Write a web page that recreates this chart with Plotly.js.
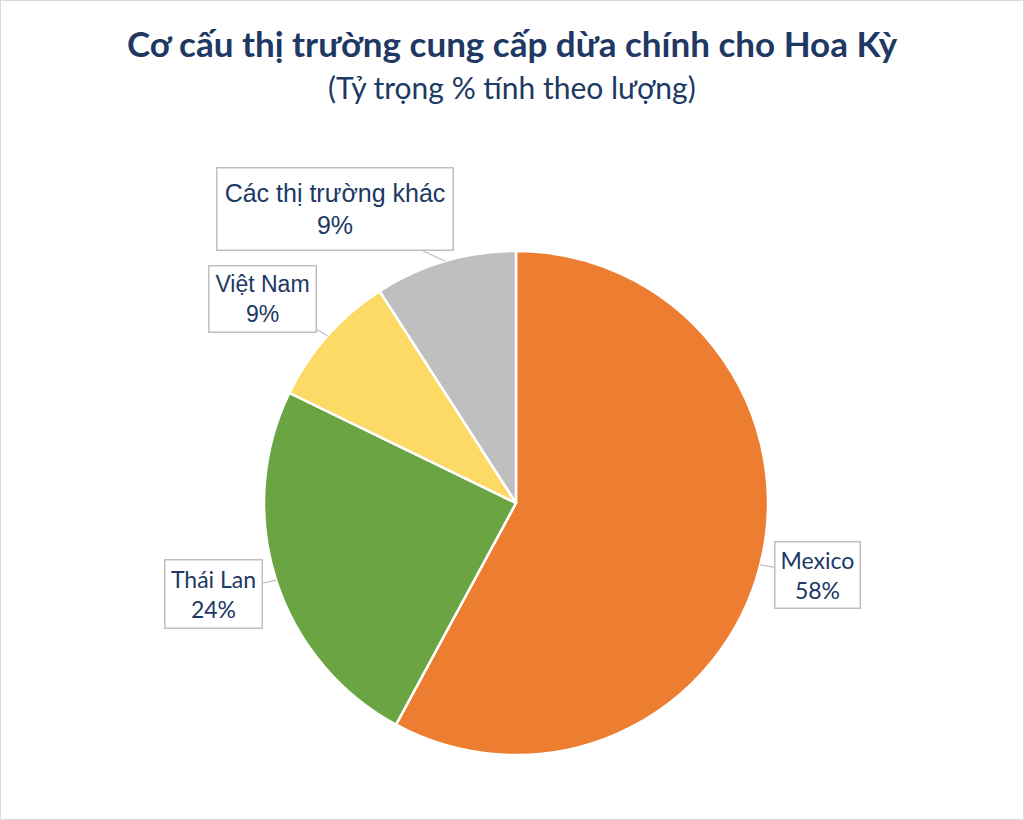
<!DOCTYPE html>
<html><head><meta charset="utf-8">
<script src="https://cdn.plot.ly/plotly-3.0.1.min.js"></script>
<style>html,body{margin:0;padding:0;background:#fff}</style>
</head><body>
<div id="chart" style="width:1024px;height:820px"></div>
<script>
const categories = ["Mexico", "Thái Lan", "Việt Nam", "Các thị trường khác"];
const shares = [57.9, 24.3, 8.7, 9.1];
const colors = ["#ED7D31", "#6AA443", "#FDD966", "#BFBFBF"];
const titleText = "Cơ cấu thị trường cung cấp dừa chính cho Hoa Kỳ";
const subtitleText = "(Tỷ trọng % tính theo lượng)";

// label box styling / offsets (pixels from slice edge)
const labelOffsets = [[57, 10], [-63, 14], [-65, -37], [-110, -52]];
const labelBoxes = [[80, 61], [92, 63], [102, 61], [231, 77]];
const labelFonts = ["Lato", "Lato", "Liberation Sans", "Liberation Sans"];
const labelSizes = [23, 23, 23, 25];

const W = 1024, H = 820;
const cx = 516, cy = 503, R = 252;
const domX = [(cx - R) / W, (cx + R) / W];
const domY = [(H - cy - R) / H, (H - cy + R) / H];

const total = shares.reduce((a, b) => a + b, 0);
let cum = 0;
const annotations = [];
shares.forEach((v, i) => {
  const mid = (cum + v / 2) / total * 2 * Math.PI;
  cum += v;
  const px = cx + R * Math.sin(mid);
  const py = cy - R * Math.cos(mid);
  annotations.push({
    xref: "paper", yref: "paper",
    x: px / W, y: 1 - py / H,
    ax: labelOffsets[i][0], ay: labelOffsets[i][1],
    axref: "pixel", ayref: "pixel",
    showarrow: true, arrowhead: 0, arrowwidth: 1.2, arrowcolor: "#BFBFBF", standoff: 0,
    text: categories[i] + "<br>" + Math.round(v / total * 100) + "%",
    font: {family: labelFonts[i], size: labelSizes[i], color: "#203864"},
    bgcolor: "#FFFFFF", bordercolor: "#BFBFBF", borderwidth: 1.5, borderpad: 2,
    width: labelBoxes[i][0], height: labelBoxes[i][1], align: "center"
  });
});

annotations.push({
  xref: "paper", yref: "paper", x: 0.5, y: 1 - 87 / H,
  xanchor: "center", yanchor: "middle", showarrow: false,
  text: subtitleText,
  font: {family: "Lato", size: 30, color: "#203864"}
});

const data = [{
  type: "pie",
  labels: categories,
  values: shares,
  sort: false,
  direction: "clockwise",
  rotation: 0,
  marker: {colors: colors, line: {color: "#FFFFFF", width: 2.5}},
  textinfo: "none",
  hoverinfo: "label+percent",
  domain: {x: domX, y: domY},
  showlegend: false
}];

const layout = {
  width: W, height: H,
  margin: {l: 0, r: 0, t: 0, b: 0},
  paper_bgcolor: "#FFFFFF",
  title: {
    text: titleText,
    font: {family: "Lato", size: 35, weight: "bold", color: "#203864"},
    x: 0.5, xanchor: "center", xref: "paper",
    y: 1 - 45 / H, yanchor: "middle", yref: "container"
  },
  annotations: annotations,
  shapes: [{type: "rect", xref: "paper", yref: "paper", x0: 0, x1: 1, y0: 0, y1: 1,
            line: {color: "#D9D9D9", width: 2}}]
};

Plotly.newPlot("chart", data, layout, {displayModeBar: false, staticPlot: true});
</script>
</body></html>
